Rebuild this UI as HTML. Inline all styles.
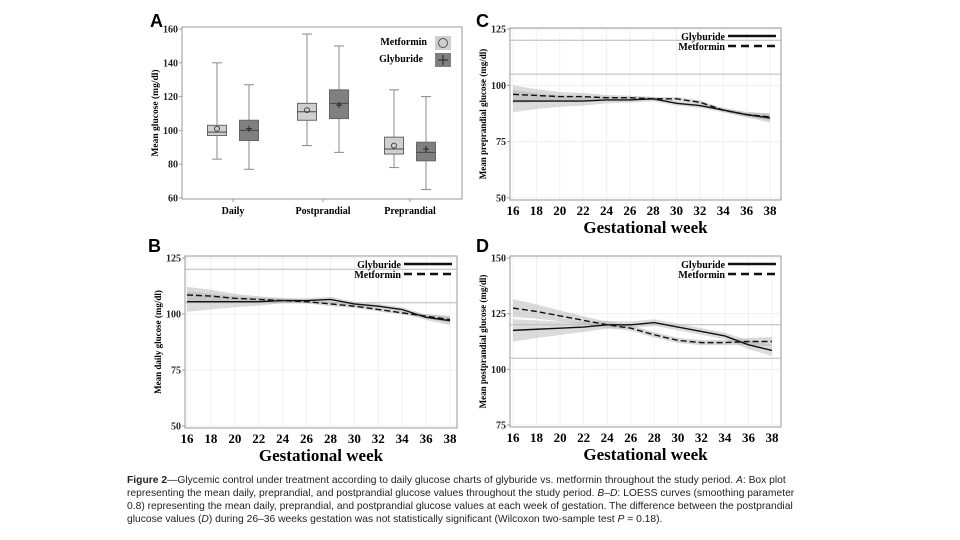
<!DOCTYPE html>
<html><head><meta charset="utf-8">
<style>
body{margin:0;background:#fff;width:960px;height:540px;overflow:hidden;position:relative;font-family:"Liberation Sans",sans-serif}
svg{position:absolute;left:0;top:0}
.cap{position:absolute;left:127px;top:474px;width:682px;font-size:10.3px;line-height:13px;color:#222;letter-spacing:0px}
</style></head><body>
<svg id="fig" width="960" height="540"></svg>
<div class="cap"><b>Figure 2</b>—Glycemic control under treatment according to daily glucose charts of glyburide vs. metformin throughout the study period. <i>A</i>: Box plot representing the mean daily, preprandial, and postprandial glucose values throughout the study period. <i>B</i>–<i>D</i>: LOESS curves (smoothing parameter 0.8) representing the mean daily, preprandial, and postprandial glucose values at each week of gestation. The difference between the postprandial glucose values (<i>D</i>) during 26–36 weeks gestation was not statistically significant (Wilcoxon two-sample test <i>P</i> = 0.18).</div>
<script>
const boxCategories=["Daily","Postprandial","Preprandial"];
const metMin=[83,91,78], metQ1=[97,106,86], metMed=[99,111,89], metQ3=[103,116,96], metMax=[140,157,124], metMean=[101,112,91];
const glyMin=[77,87,65], glyQ1=[94,107,82], glyMed=[100,116,87], glyQ3=[106,124,93], glyMax=[127,150,120], glyMean=[101,115,89];
const boxTicks=[60,80,100,120,140,160];

const weeks=[16,18,20,22,24,26,28,30,32,34,36,38];
const weekTicks=[16,18,20,22,24,26,28,30,32,34,36,38];
const bGly=[105.5,105.5,105.5,105.5,106,106,106.5,104.5,103.5,102,98.5,97];
const bMet=[108.5,108,107,106.5,106,105.5,104.5,103.5,102,100.5,99,97.5];
const bBand=[4.5,3.5,2.5,1.8,1.2,1,1.2,1,1,1,1.2,2];
const cGly=[93,93,93,93,93.5,93.5,94,92,91,89,87,85.5];
const cMet=[96,95.5,95,95,94.5,94.5,94,94,92.5,89,87,86];
const cBand=[5,3.5,2.5,2,1.5,1.2,1,1,1,1,1.2,2];
const dGly=[117.5,118,118.5,119,120,120,121,119,117,115,111,108.5];
const dMet=[127.5,126,124,122,120,118.5,115.5,113,112,112,112.5,112.5];
const dBand=[5,4,3,2.2,1.8,1.5,1.5,1.5,1.5,1.5,2,2.5];

const NS="http://www.w3.org/2000/svg";
const svg=document.getElementById('fig');
function mk(tag,attrs,parent){const e=document.createElementNS(NS,tag);for(const k in attrs)e.setAttribute(k,attrs[k]);(parent||svg).appendChild(e);return e;}
function txt(s,x,y,attrs,parent){const t=mk('text',Object.assign({x:x,y:y},attrs),parent);t.textContent=s;return t;}
const serif='"Liberation Serif",serif';

[["A",150,27],["B",148,252],["C",476,27],["D",476,252]].forEach(p=>{
  const t=txt(p[0],p[1],p[2],{'font-size':18,'font-weight':'bold','font-family':'"Liberation Sans",sans-serif'});
  
  
});

(function(){
  const g=mk('g',{});
  
  
  const L=182,R=462,T=27,B=199;
  const y=v=>198-(v-60)/100*169;
  const cx=[233,323,410];
  mk('rect',{x:L,y:T,width:R-L,height:B-T,fill:'none',stroke:'#999','stroke-width':1},g);
  boxTicks.forEach(v=>{
    mk('line',{x1:L-3,x2:L,y1:y(v),y2:y(v),stroke:'#999'},g);
    const t=txt(String(v),L-4,y(v)+3.5,{'font-size':10,'font-weight':'bold','font-family':serif,'text-anchor':'end',fill:'#222'},g);
    
    
  });
  const yt=txt('Mean glucose (mg/dl)',0,0,{'font-size':9.5,'font-weight':'bold','font-family':serif,'text-anchor':'middle',transform:`translate(158,${(T+B)/2}) rotate(-90)`},g);
  
  
  function box(x,mn,q1,md,q3,mx,mean,fill,isMet){
    const bw=19;
    mk('line',{x1:x,x2:x,y1:y(mx),y2:y(q3),stroke:'#888'},g);
    mk('line',{x1:x,x2:x,y1:y(q1),y2:y(mn),stroke:'#888'},g);
    mk('line',{x1:x-5,x2:x+5,y1:y(mx),y2:y(mx),stroke:'#888'},g);
    mk('line',{x1:x-5,x2:x+5,y1:y(mn),y2:y(mn),stroke:'#888'},g);
    const r=mk('rect',{x:x-bw/2,y:y(q3),width:bw,height:y(q1)-y(q3),fill:fill,stroke:'#666'},g);
    
    
    mk('line',{x1:x-bw/2,x2:x+bw/2,y1:y(md),y2:y(md),stroke:'#444'},g);
    if(isMet) mk('circle',{cx:x,cy:y(mean),r:2.5,fill:'none',stroke:'#444'},g);
    else{mk('line',{x1:x-3,x2:x+3,y1:y(mean),y2:y(mean),stroke:'#222'},g);mk('line',{x1:x,x2:x,y1:y(mean)-3,y2:y(mean)+3,stroke:'#222'},g);}
  }
  boxCategories.forEach((c,i)=>{
    box(cx[i]-16,metMin[i],metQ1[i],metMed[i],metQ3[i],metMax[i],metMean[i],'#cfcfcf',true);
    box(cx[i]+16,glyMin[i],glyQ1[i],glyMed[i],glyQ3[i],glyMax[i],glyMean[i],'#808080',false);
    mk('line',{x1:cx[i],x2:cx[i],y1:B,y2:B+3,stroke:'#999'},g);
    const t=txt(c,cx[i],B+15,{'font-size':10,'font-weight':'bold','font-family':serif,'text-anchor':'middle'},g);
    
    
  });
  const l1=txt('Metformin',427,45,{'font-size':10,'font-weight':'bold','font-family':serif,'text-anchor':'end'},g);
  
  
  mk('rect',{x:435,y:36,width:16,height:14,fill:'#cfcfcf'},g);
  mk('circle',{cx:443,cy:43,r:4.5,fill:'none',stroke:'#555'},g);
  const l2=txt('Glyburide',423,62,{'font-size':10,'font-weight':'bold','font-family':serif,'text-anchor':'end'},g);
  
  
  mk('rect',{x:435,y:53,width:16,height:14,fill:'#808080'},g);
  mk('line',{x1:438,x2:448,y1:60,y2:60,stroke:'#222'},g);
  mk('line',{x1:443,x2:443,y1:55,y2:65,stroke:'#222'},g);
})();

function loessPanel(o){
  const g=mk('g',{});
  
  
  const {L,R,T,B,vmin,vmax,yTop,yBot,x16,x38}=o;
  const y=v=>yBot-(v-vmin)/(vmax-vmin)*(yBot-yTop);
  const x=w=>x16+(w-16)/22*(x38-x16);
  mk('rect',{x:L,y:T,width:R-L,height:B-T,fill:'#fff'},g);
  weekTicks.forEach(w=>mk('line',{x1:x(w),x2:x(w),y1:T,y2:B,stroke:'#f0f0f0'},g));
  o.ticks.forEach(v=>mk('line',{x1:L,x2:R,y1:y(v),y2:y(v),stroke:'#f0f0f0'},g));
  [120,105].forEach(v=>{const l=mk('line',{x1:L,x2:R,y1:y(v),y2:y(v),stroke:'#bbb'},g);});
  function band(vals,hw,fill){
    let d='';vals.forEach((v,i)=>{d+=(i?'L':'M')+x(weeks[i])+','+y(v+hw[i]);});
    for(let i=vals.length-1;i>=0;i--)d+='L'+x(weeks[i])+','+y(vals[i]-hw[i]);
    const p=mk('path',{d:d+'Z',fill:fill},g);
    
    
  }
  band(o.gly,o.band,'rgba(190,190,190,0.55)');
  band(o.met,o.band.map(b=>b*0.8),'rgba(170,170,170,0.45)');
  function line(vals,dash,nm){
    const pts=vals.map((v,i)=>x(weeks[i])+','+y(v)).join(' ');
    const p=mk('polyline',{points:pts,fill:'none',stroke:'#111','stroke-width':1.4,'stroke-dasharray':dash},g);
    
    
  }
  line(o.gly,'none','glyburide-line');
  line(o.met,'6,3','metformin-line');
  mk('rect',{x:L,y:T,width:R-L,height:B-T,fill:'none',stroke:'#999'},g);
  o.ticks.forEach(v=>{
    mk('line',{x1:L-3,x2:L,y1:y(v),y2:y(v),stroke:'#999'},g);
    const t=txt(String(v),L-4,y(v)+3.5,{'font-size':10,'font-weight':'bold','font-family':serif,'text-anchor':'end',fill:'#222'},g);
    
    
  });
  weekTicks.forEach(w=>{
    const t=txt(String(w),x(w),B+15,{'font-size':13,'font-weight':'bold','font-family':serif,'text-anchor':'middle'},g);
    
    
  });
  const xt=txt('Gestational week',(L+R)/2,B+33,{'font-size':17,'font-weight':'bold','font-family':serif,'text-anchor':'middle'},g);
  
  
  const yt=txt(o.ytitle,0,0,{'font-size':9,'font-weight':'bold','font-family':serif,'text-anchor':'middle',transform:`translate(${L-24},${(T+B)/2}) rotate(-90)`},g);
  
  
  const lx=R-53;
  const g1=txt('Glyburide',lx-3,T+12,{'font-size':10,'font-weight':'bold','font-family':serif,'text-anchor':'end'},g);
  
  
  mk('line',{x1:lx,x2:R-5,y1:T+8,y2:T+8,stroke:'#111','stroke-width':2.5},g);
  const m1=txt('Metformin',lx-3,T+22,{'font-size':10,'font-weight':'bold','font-family':serif,'text-anchor':'end'},g);
  
  
  mk('line',{x1:lx,x2:R-5,y1:T+18,y2:T+18,stroke:'#111','stroke-width':2.5,'stroke-dasharray':'8,5'},g);
}
loessPanel({name:'panel-c-preprandial',L:510,R:781,T:28,B:200,vmin:50,vmax:125,yTop:29,yBot:198,x16:513,x38:770,ticks:[50,75,100,125],gly:cGly,met:cMet,band:cBand,ytitle:'Mean preprandial glucose (mg/dl)'});
loessPanel({name:'panel-b-daily',L:185,R:457,T:256,B:428,vmin:50,vmax:125,yTop:258,yBot:426,x16:187,x38:450,ticks:[50,75,100,125],gly:bGly,met:bMet,band:bBand,ytitle:'Mean daily glucose (mg/dl)'});
loessPanel({name:'panel-d-postprandial',L:510,R:781,T:256,B:427,vmin:75,vmax:150,yTop:258,yBot:425,x16:513,x38:772,ticks:[75,100,125,150],gly:dGly,met:dMet,band:dBand,ytitle:'Mean postprandial glucose (mg/dl)'});
</script>
</body></html>
